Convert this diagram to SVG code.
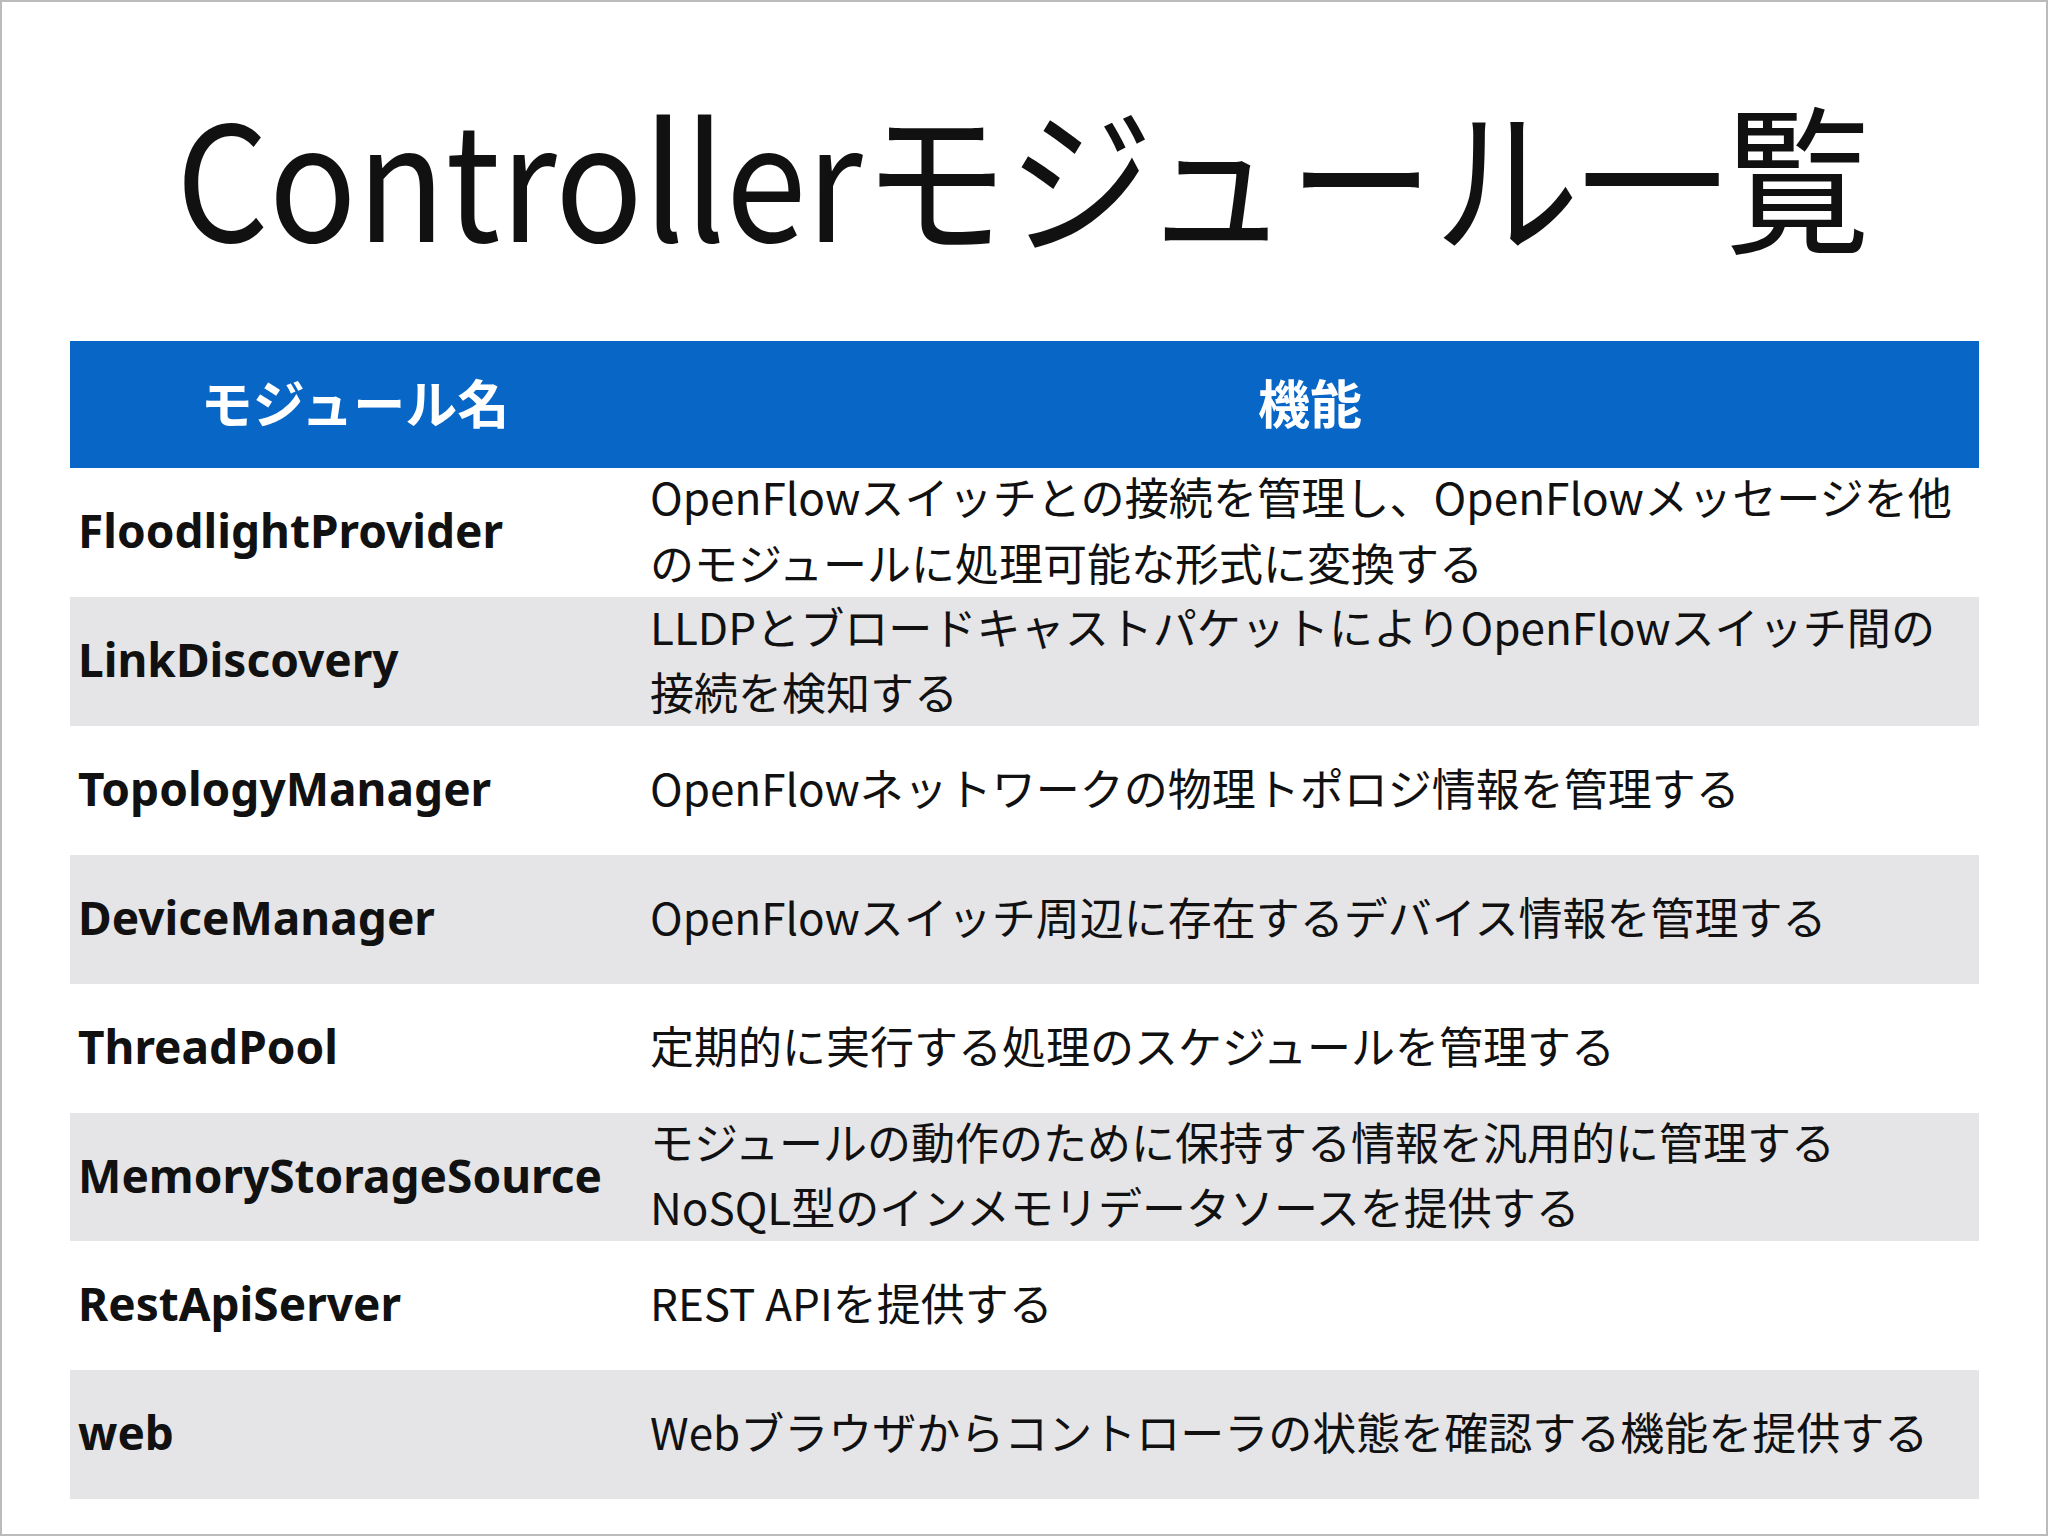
<svg xmlns="http://www.w3.org/2000/svg" width="2048" height="1536" viewBox="0 0 2048 1536">
<style>
.t{font-family:"Noto Sans CJK JP","Noto Sans",sans-serif;font-size:44px;fill:#111}
.b{font-family:"Noto Sans","Noto Sans CJK JP",sans-serif;font-weight:bold;font-size:46px;fill:#111}
.h{font-family:"Noto Sans CJK JP",sans-serif;font-weight:bold;font-size:52px;fill:#fff;text-anchor:middle}
.g{fill:#e5e5e8}
</style>
<rect x="1" y="1" width="2046" height="1534" fill="#fff" stroke="#bbb" stroke-width="2"/>
<text x="1023" y="242" text-anchor="middle" font-family="Noto Sans CJK JP,sans-serif" font-size="160" fill="#111" textLength="1694" lengthAdjust="spacingAndGlyphs">Controllerモジュール一覧</text>
<g id="header">
<rect x="70" y="341" width="1909" height="127" fill="#0866c6"/>
<text class="h" x="355" y="424">モジュール名</text>
<text class="h" x="1310" y="424">機能</text>
</g>
<g id="rows">
<rect class="g" x="70" y="597" width="1909" height="129"/>
<rect class="g" x="70" y="855" width="1909" height="129"/>
<rect class="g" x="70" y="1113" width="1909" height="128"/>
<rect class="g" x="70" y="1370" width="1909" height="129"/>
</g>
<g id="r1"><text class="b" x="78" y="548">FloodlightProvider</text>
<text class="t" x="650" y="515" textLength="1302" lengthAdjust="spacingAndGlyphs">OpenFlowスイッチとの接続を管理し、OpenFlowメッセージを他</text>
<text class="t" x="650" y="581">のモジュールに処理可能な形式に変換する</text></g>
<g id="r2"><text class="b" x="78" y="677">LinkDiscovery</text>
<text class="t" x="650" y="645" textLength="1285" lengthAdjust="spacingAndGlyphs">LLDPとブロードキャストパケットによりOpenFlowスイッチ間の</text>
<text class="t" x="650" y="710">接続を検知する</text></g>
<g id="r3"><text class="b" x="78" y="806">TopologyManager</text>
<text class="t" x="650" y="806">OpenFlowネットワークの物理トポロジ情報を管理する</text></g>
<g id="r4"><text class="b" x="78" y="935">DeviceManager</text>
<text class="t" x="650" y="935">OpenFlowスイッチ周辺に存在するデバイス情報を管理する</text></g>
<g id="r5"><text class="b" x="78" y="1064">ThreadPool</text>
<text class="t" x="650" y="1064">定期的に実行する処理のスケジュールを管理する</text></g>
<g id="r6"><text class="b" x="78" y="1193">MemoryStorageSource</text>
<text class="t" x="650" y="1160">モジュールの動作のために保持する情報を汎用的に管理する</text>
<text class="t" x="650" y="1225">NoSQL型のインメモリデータソースを提供する</text></g>
<g id="r7"><text class="b" x="78" y="1321">RestApiServer</text>
<text class="t" x="650" y="1321">REST APIを提供する</text></g>
<g id="r8"><text class="b" x="78" y="1450">web</text>
<text class="t" x="650" y="1450">Webブラウザからコントローラの状態を確認する機能を提供する</text></g>
<g id="connectors"/>
</svg>
